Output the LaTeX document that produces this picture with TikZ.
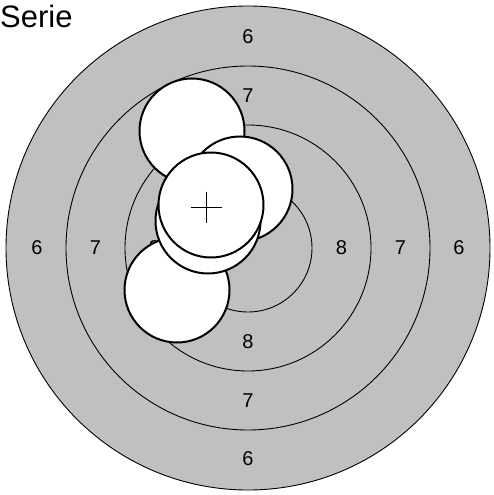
\documentclass[tikz,border=0pt]{standalone}
\usepackage{fontspec}
\setmainfont{Liberation Sans}
\usetikzlibrary{positioning,calc}
\definecolor{targetgray}{HTML}{C0C0C0}

\begin{document}
\begin{tikzpicture}[x=1pt, y=-1pt,
  ring/.style={draw, line width=0.9pt},
  score/.style={font=\fontsize{20}{20}\selectfont, inner sep=0pt},
  shot/.style={circle, draw, line width=2pt, fill=white, minimum size=105pt, inner sep=0pt}
]
\useasboundingbox (0,0) rectangle (493,495);
\coordinate (tc) at (248,248);

% target rings
\fill[targetgray] (tc) circle (242pt);
\foreach \r in {242,182,123,64}
  \draw[ring] (tc) circle (\r pt);

% ring numbers
\foreach \v/\d in {6/211, 7/152.5, 8/93.5} {
  \node[score] (n\v) at ($(tc)+(0,-\d)$) {\v};
  \node[score] (s\v) at ($(tc)+(0,\d)$) {\v};
  \node[score] (w\v) at ($(tc)+(-\d,0)$) {\v};
  \node[score] (e\v) at ($(tc)+(\d,0)$) {\v};
}

% shots
\node[shot] (shot1) at (192,131) {};
\node[shot] (shot2) at (240,189) {};
\node[shot] (shot5) at (177,290) {};
\node[shot] (shot3) at (208,221) {};
\node[shot] (shot4) at (211,205) {};

% mean point of the series
\coordinate (mean) at (206,207);
\draw[line width=1pt] ($(mean)+(-15.5,0)$) -- ($(mean)+(15.5,0)$)
  ($(mean)+(0,-15.5)$) -- ($(mean)+(0,15.5)$);

\node[font=\fontsize{31}{31}\selectfont, inner sep=0pt, anchor=base west] (title) at (0,28) {Serie};
\end{tikzpicture}
\end{document}
